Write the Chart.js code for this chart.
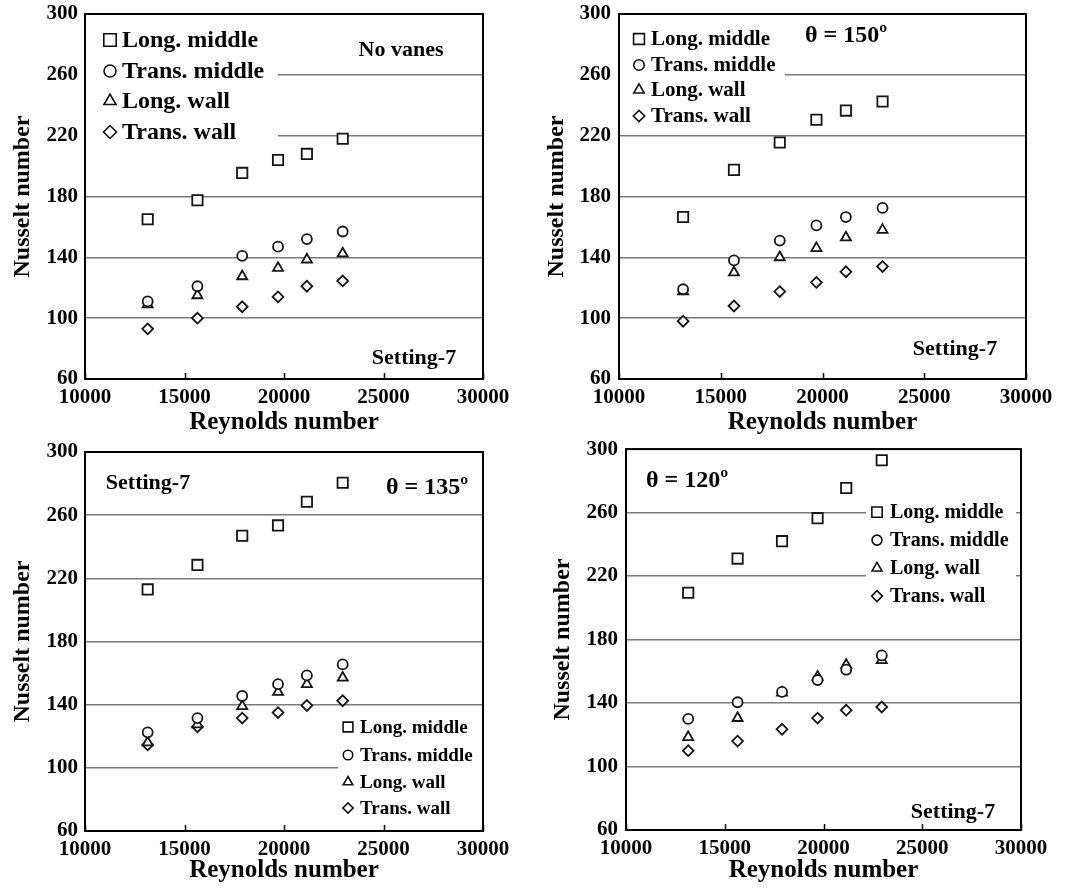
<!DOCTYPE html>
<html>
<head>
<meta charset="utf-8">
<script src="https://cdn.jsdelivr.net/npm/chart.js@4.4.1/dist/chart.umd.min.js"></script>
<style>
  body { margin: 0; background: #fff; width: 1068px; height: 888px; position: relative; overflow: hidden; }
  .panel { position: absolute; }
</style>
</head>
<body>
<div class="panel" style="left:0;top:0;width:534px;height:440px"><canvas id="p1"></canvas></div>
<div class="panel" style="left:534px;top:0;width:534px;height:440px"><canvas id="p2"></canvas></div>
<div class="panel" style="left:0;top:440px;width:534px;height:448px"><canvas id="p3"></canvas></div>
<div class="panel" style="left:534px;top:440px;width:534px;height:448px"><canvas id="p4"></canvas></div>
<script>
// Reynolds numbers (same for every panel)
const reynolds = [13150, 15650, 17900, 19700, 21150, 22950];
const seriesNames = ['Long. middle', 'Trans. middle', 'Long. wall', 'Trans. wall'];

// No vanes
const noVanesLongMid = [165, 177.5, 195.5, 204, 208, 218];
const noVanesTransMid = [111, 121, 141, 147, 152, 157];
const noVanesLongWall = [109, 115, 127.5, 133, 138.5, 142.5];
const noVanesTransWall = [93, 100, 107.5, 114, 121, 124.5];

// theta = 150
const t150LongMid = [166.5, 197.5, 215.5, 230.5, 236.5, 242.5];
const t150TransMid = [119, 138, 151, 161, 166.5, 172.5];
const t150LongWall = [117.5, 130, 140, 146, 153, 158];
const t150TransWall = [98, 108, 117.5, 123.5, 130.5, 134];

// theta = 135
const t135LongMid = [213, 228.5, 247, 253.5, 268.5, 280.5];
const t135TransMid = [122.5, 131.5, 145.5, 153, 158.5, 165.5];
const t135LongWall = [116, 127.5, 139, 148, 153, 157];
const t135TransWall = [114.5, 126, 131.5, 135, 139.5, 142.5];

// theta = 120
const t120LongMid = [209.5, 231, 242, 256.5, 275.5, 293];
const t120TransMid = [130, 140.5, 147, 154.5, 161, 170];
const t120LongWall = [118.5, 130.5, 146.5, 156.5, 164, 167];
const t120TransWall = [110, 116, 123.5, 130.5, 135.5, 137.5];

// axis ranges
const reMin = 10000, reMax = 30000, reStep = 5000;
const nuMin = 60, nuMax = 300, nuStep = 40;

const FONT = '"Liberation Serif", "Times New Roman", serif';
const markers = [
  { style: 'rect', r: 7.3 },
  { style: 'circle', r: 5 },
  { style: 'triangle', r: 5.8 },
  { style: 'rectRot', r: 5.4 }
];

// draws border, inward ticks, in-plot legend and notes
const panelDecor = {
  id: 'panelDecor',
  beforeDatasetsDraw(chart, args, opts) {
    const { ctx, chartArea: a } = chart;
    const b = opts.legend.box;
    ctx.save();
    ctx.fillStyle = '#fff';
    ctx.fillRect(a.left + b[0], a.top + b[1], b[2] - b[0], b[3] - b[1]);
    ctx.restore();
  },
  afterDraw(chart, args, opts) {
    const { ctx, chartArea: a, scales } = chart;
    ctx.save();
    ctx.strokeStyle = '#000';
    ctx.lineWidth = 2;
    ctx.strokeRect(a.left, a.top, a.right - a.left, a.bottom - a.top);
    // small inward ticks on the x axis
    ctx.lineWidth = 1.5;
    scales.x.ticks.forEach(t => {
      const px = Math.round(scales.x.getPixelForValue(t.value)) + 0.5;
      ctx.beginPath();
      ctx.moveTo(px, a.bottom);
      ctx.lineTo(px, a.bottom - 6);
      ctx.stroke();
    });
    // legend
    const lg = opts.legend;
    ctx.fillStyle = '#000';
    ctx.textBaseline = 'middle';
    ctx.textAlign = 'left';
    ctx.font = 'bold ' + lg.size + 'px ' + FONT;
    seriesNames.forEach((name, i) => {
      const y = a.top + lg.rows[i];
      ctx.save();
      ctx.strokeStyle = '#111';
      ctx.fillStyle = '#fff';
      ctx.lineWidth = 1.6;
      Chart.helpers.drawPoint(ctx, {
        pointStyle: markers[i].style,
        radius: markers[i].r * lg.size / 20,
        rotation: 0,
        borderWidth: 1.6
      }, a.left + lg.markerX, y);
      ctx.restore();
      ctx.fillText(name, a.left + lg.textX, y + 1);
    });
    // notes
    ctx.textAlign = 'center';
    opts.notes.forEach(n => {
      ctx.font = 'bold ' + n.size + 'px ' + FONT;
      ctx.fillText(n.text, a.left + n.x, a.top + n.y);
    });
    ctx.restore();
  }
};

function makePanel(id, series, layout, decor) {
  new Chart(document.getElementById(id), {
    type: 'scatter',
    data: {
      datasets: series.map((vals, i) => ({
        label: seriesNames[i],
        data: reynolds.map((re, j) => ({ x: re, y: vals[j] })),
        pointStyle: markers[i].style,
        pointRadius: markers[i].r,
        pointHoverRadius: markers[i].r,
        pointBorderWidth: 1.8,
        borderColor: '#151515',
        backgroundColor: '#fff'
      }))
    },
    options: {
      responsive: true,
      maintainAspectRatio: false,
      animation: false,
      layout: { padding: { left: 0, bottom: 0, top: layout.top, right: layout.right } },
      plugins: {
        legend: { display: false },
        tooltip: { enabled: false },
        panelDecor: decor
      },
      scales: {
        x: {
          type: 'linear',
          min: reMin, max: reMax,
          ticks: {
            stepSize: reStep,
            padding: 6,
            color: '#000',
            font: { family: FONT, size: 21, weight: 'bold' },
            callback: v => String(v),
            maxRotation: 0
          },
          grid: { display: false, drawTicks: false },
          border: { display: false },
          title: {
            display: true,
            text: 'Reynolds number',
            color: '#000',
            font: { family: FONT, size: 25, weight: 'bold' },
            padding: { top: 0, bottom: 2 }
          },
          afterFit(scale) {
            scale.height = layout.xh;
            scale.paddingLeft = 0;
            scale.paddingRight = 0;
          }
        },
        y: {
          type: 'linear',
          min: nuMin, max: nuMax,
          ticks: {
            stepSize: nuStep,
            padding: layout.ytp,
            color: '#000',
            font: { family: FONT, size: 21, weight: 'bold' }
          },
          grid: { color: '#7a7a7a', lineWidth: 1.5, drawTicks: false },
          border: { display: false },
          title: {
            display: true,
            text: 'Nusselt number',
            color: '#000',
            font: { family: FONT, size: 24, weight: 'bold' },
            padding: { top: layout.ytitle, bottom: 0 }
          },
          afterFit(scale) {
            scale.width = layout.left;
            scale.paddingTop = 0;
            scale.paddingBottom = 0;
          }
        }
      }
    },
    plugins: [panelDecor]
  });
}

makePanel('p1', [noVanesLongMid, noVanesTransMid, noVanesLongWall, noVanesTransWall],
  { left: 85, top: 14, right: 51, xh: 61, ytp: 7, ytitle: 8 },
  {
    legend: { size: 24, markerX: 25, textX: 37, rows: [26, 57, 87, 118], box: [0, 0, 193, 132] },
    notes: [
      { text: 'No vanes', x: 316, y: 36, size: 22 },
      { text: 'Setting-7', x: 329, y: 344, size: 22 }
    ]
  });

makePanel('p2', [t150LongMid, t150TransMid, t150LongWall, t150TransWall],
  { left: 85, top: 14, right: 42, xh: 61, ytp: 8, ytitle: 8 },
  {
    legend: { size: 21, markerX: 20, textX: 32, rows: [25, 51, 76, 102], box: [0, 0, 166, 114] },
    notes: [
      { text: 'θ = 150º', x: 227, y: 22, size: 24 },
      { text: 'Setting-7', x: 336, y: 335, size: 22 }
    ]
  });

makePanel('p3', [t135LongMid, t135TransMid, t135LongWall, t135TransWall],
  { left: 85, top: 12, right: 51, xh: 57, ytp: 7, ytitle: 8 },
  {
    legend: { size: 19, markerX: 263, textX: 275, rows: [275, 303, 330, 356], box: [253, 260, 398, 379] },
    notes: [
      { text: 'Setting-7', x: 63, y: 31, size: 22 },
      { text: 'θ = 135º', x: 342, y: 36, size: 24 }
    ]
  });

makePanel('p4', [t120LongMid, t120TransMid, t120LongWall, t120TransWall],
  { left: 92, top: 5, right: 47, xh: 58, ytp: 8, ytitle: 14 },
  {
    legend: { size: 20, markerX: 251, textX: 264, rows: [63, 91, 119, 147], box: [240, 47, 390, 161] },
    notes: [
      { text: 'θ = 120º', x: 61, y: 32, size: 24 },
      { text: 'Setting-7', x: 327, y: 363, size: 22 }
    ]
  });
</script>
</body>
</html>
